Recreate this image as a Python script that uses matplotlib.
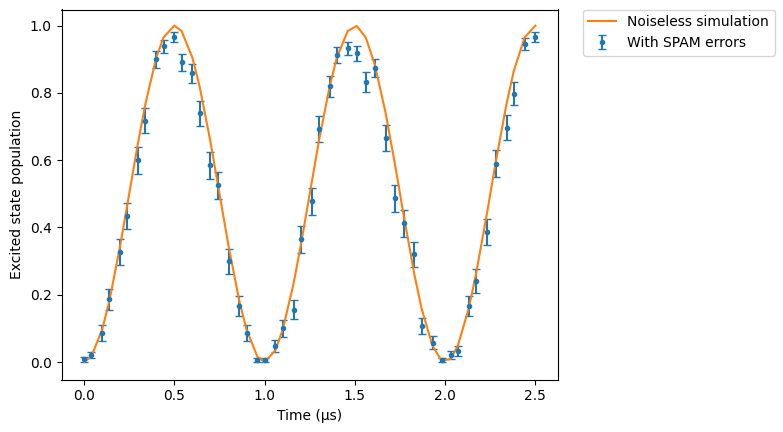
import matplotlib
matplotlib.use("Agg")
import matplotlib.pyplot as plt

# Evaluation times (µs)
times = [0.00, 0.04, 0.10, 0.14, 0.20, 0.24, 0.30, 0.34, 0.40, 0.44,
         0.50, 0.54, 0.60, 0.64, 0.70, 0.74, 0.80, 0.86, 0.90, 0.96,
         1.00, 1.06, 1.10, 1.16, 1.20, 1.26, 1.30, 1.36, 1.40, 1.46,
         1.51, 1.56, 1.61, 1.67, 1.72, 1.77, 1.83, 1.87, 1.93, 1.98,
         2.03, 2.07, 2.13, 2.17, 2.23, 2.28, 2.34, 2.38, 2.44, 2.50]

# Noiseless simulation
noiseless = [0.000, 0.016, 0.096, 0.181, 0.346, 0.469, 0.655, 0.768, 0.905, 0.965,
             1.000, 0.984, 0.905, 0.819, 0.655, 0.531, 0.346, 0.181, 0.096, 0.016,
             0.000, 0.035, 0.096, 0.232, 0.346, 0.531, 0.655, 0.819, 0.905, 0.984,
             0.999, 0.965, 0.885, 0.741, 0.594, 0.437, 0.259, 0.158, 0.048, 0.004,
             0.009, 0.048, 0.158, 0.259, 0.437, 0.594, 0.768, 0.865, 0.965, 1.000]

# With SPAM errors (blue points) and their error bars
spam = [0.008, 0.021, 0.085, 0.186, 0.326, 0.434, 0.600, 0.718, 0.900, 0.939,
        0.966, 0.891, 0.858, 0.740, 0.585, 0.525, 0.300, 0.166, 0.085, 0.006,
        0.006, 0.048, 0.100, 0.155, 0.365, 0.478, 0.692, 0.820, 0.912, 0.933,
        0.918, 0.833, 0.874, 0.666, 0.487, 0.412, 0.320, 0.107, 0.058, 0.006,
        0.021, 0.033, 0.166, 0.241, 0.386, 0.590, 0.697, 0.798, 0.945, 0.966]
spam_err = [0.007, 0.010, 0.024, 0.031, 0.039, 0.040, 0.040, 0.036, 0.025, 0.019,
            0.014, 0.025, 0.028, 0.037, 0.040, 0.041, 0.037, 0.030, 0.024, 0.006,
            0.006, 0.017, 0.025, 0.028, 0.040, 0.040, 0.038, 0.031, 0.024, 0.019,
            0.022, 0.029, 0.028, 0.039, 0.040, 0.040, 0.037, 0.025, 0.020, 0.006,
            0.011, 0.015, 0.030, 0.035, 0.039, 0.039, 0.037, 0.033, 0.017, 0.014]

fig = plt.figure(figsize=(7.83, 4.32), dpi=100)
ax = fig.add_axes([61.5 / 783, (432 - 379.5) / 432, (558 - 61.5) / 783, 370 / 432])

ax.errorbar(times, spam, yerr=spam_err, fmt='.', capsize=3, color='C0',
            label='With SPAM errors')
ax.plot(times, noiseless, color='C1', label='Noiseless simulation')

ax.set_xlim(-0.125, 2.625)
ax.set_ylim(-0.052, 1.048)
ax.set_xlabel('Time (µs)')
ax.set_ylabel('Excited state population')
ax.legend(bbox_to_anchor=(1.05, 1), loc='upper left', borderaxespad=0)

fig.savefig('out.png', dpi=100)
